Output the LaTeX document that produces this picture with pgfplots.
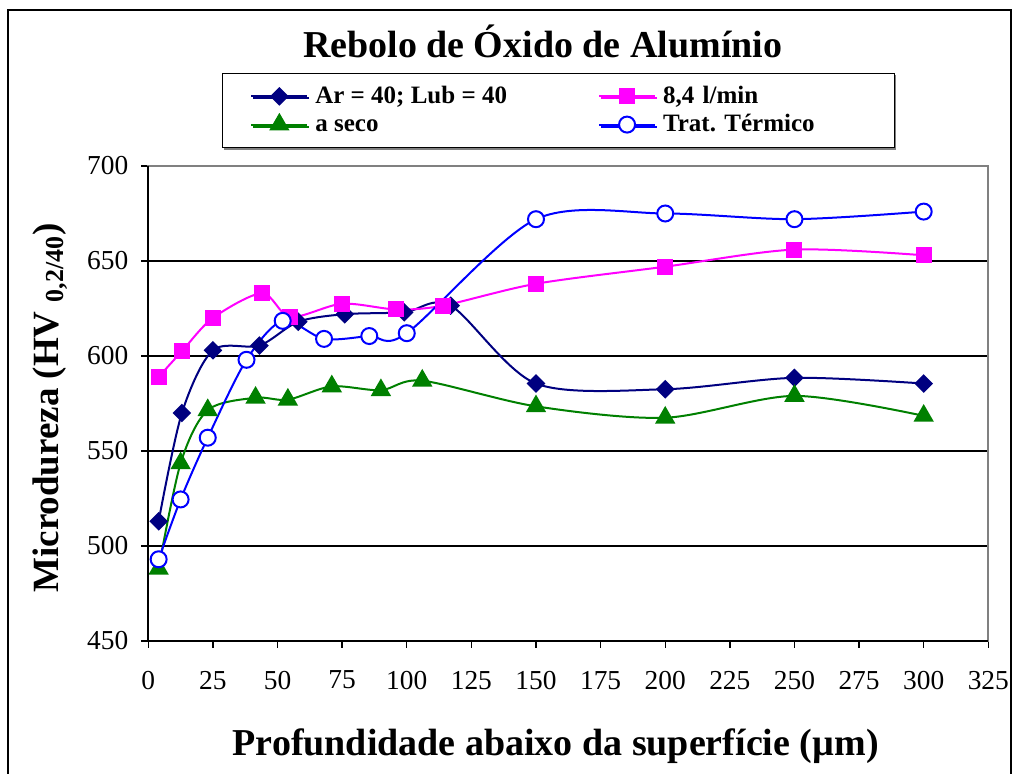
\documentclass[border=0pt]{standalone}
\usepackage{pgfplots}
\pgfplotsset{compat=1.18}
\usepackage{fontspec}
\setmainfont{Liberation Serif}
\usetikzlibrary{shadows}
\definecolor{navyx}{RGB}{0,0,128}
\definecolor{magx}{RGB}{255,0,255}
\definecolor{greenx}{RGB}{0,128,0}
\definecolor{bluex}{RGB}{0,0,255}
\frenchspacing
\begin{document}
\begin{tikzpicture}
\path[use as bounding box] (0,0) rectangle (506.5pt,387pt);
\draw[line width=1pt] (4pt,-2pt) -- (4pt,382pt) -- (505.5pt,382pt) -- (505.5pt,-2pt);
\begin{axis}[
  at={(74.15pt,66.5pt)}, anchor=south west,
  scale only axis, width=420pt, height=237.5pt,
  xmin=0, xmax=325, ymin=450, ymax=700,
  xtick={0,25,...,325}, ytick={450,500,...,700},
  ymajorgrids, grid style={black, line width=0.6pt},
  axis line style={gray, line width=0.9pt},
  tick pos=left, tick align=outside, major tick length=3.5pt,
  tick style={black, line width=0.7pt},
  ticklabel style={font=\fontsize{13.7}{16}\selectfont},
  /pgf/number format/assume math mode=true,
  xticklabel style={yshift=-8pt},
  yticklabel style={xshift=-3pt},
  title={Rebolo de Óxido de Alumínio},
  title style={font=\fontsize{19}{22}\selectfont\bfseries, at={(axis description cs:0.4695,1.238)}, anchor=center},
  xlabel={Profundidade abaixo da superfície (µm)},
  xlabel style={font=\fontsize{19}{22}\selectfont\bfseries, at={(axis description cs:0.485,-0.222)}, anchor=center},
  ylabel={Microdureza (HV \textsubscript{0,2/40})},
  ylabel style={font=\fontsize{18.5}{22}\selectfont\bfseries, at={(axis description cs:-0.117,0.4905)}, anchor=center},
  legend columns=2, legend cell align=left,
  legend image code/.code={\draw[mark repeat=2,mark phase=2] plot coordinates {(0pt,0pt) (14pt,0pt) (28pt,0pt)};},
  legend style={at={(axis description cs:0.0877,1.196)}, anchor=north west, draw=black, fill=white,
    drop shadow={shadow xshift=1pt, shadow yshift=-1pt, fill=gray, opacity=1},
    font=\fontsize{12.5}{14}\selectfont\bfseries, inner xsep=14pt, inner ysep=5pt,
    nodes={inner sep=1.5pt}, row sep=1pt,
    /tikz/every odd column/.append style={column sep=2pt},
    /tikz/every even column/.append style={column sep=44pt, text height=8.6pt, text depth=2.8pt},
    /tikz/column 4/.append style={text width=100pt, align=left}},
  after end axis/.code={\draw[black, line width=0.9pt] (rel axis cs:0,1) -- (rel axis cs:0,0) -- (rel axis cs:1,0);},
]
\addplot[navyx, line width=1pt, smooth, mark=square*, mark size=2.8pt, mark options={rotate=45, fill=navyx}]
  coordinates {(4,513) (13,570) (25,603) (43,605.5) (58,618) (76,622) (99,623) (117,626.5) (150,585.5) (200,582.5) (250,588.5) (300,585.5)};
\addlegendentry{Ar = 40; Lub = 40}
\addplot[magx, line width=1pt, smooth, mark=square*, mark size=3.5pt, mark options={fill=magx}]
  coordinates {(4,589) (13,602.5) (25,620) (44,633) (55,620.5) (75,627.5) (96,624.5) (114,626.5) (150,638) (200,647) (250,656) (300,653)};
\addlegendentry{8,4 l/min}
\addplot[greenx, line width=1pt, smooth, mark=triangle*, mark size=4.9pt, mark options={fill=greenx}]
  coordinates {(4,488) (12.5,543.5) (23,571.5) (41.5,578) (54,577) (71,584) (90,582) (106,587) (150,573.5) (200,567.5) (250,579) (300,568.5)};
\addlegendentry{a seco}
\addplot[bluex, line width=1pt, smooth, mark=*, mark size=4pt, mark options={fill=white}]
  coordinates {(4,493) (12.5,524.5) (23,557) (38,598) (52,618.5) (68,609) (85.5,610.5) (100,612) (150,672) (200,675) (250,672) (300,676)};
\addlegendentry{Trat.\ Térmico}
\end{axis}
\end{tikzpicture}
\end{document}
